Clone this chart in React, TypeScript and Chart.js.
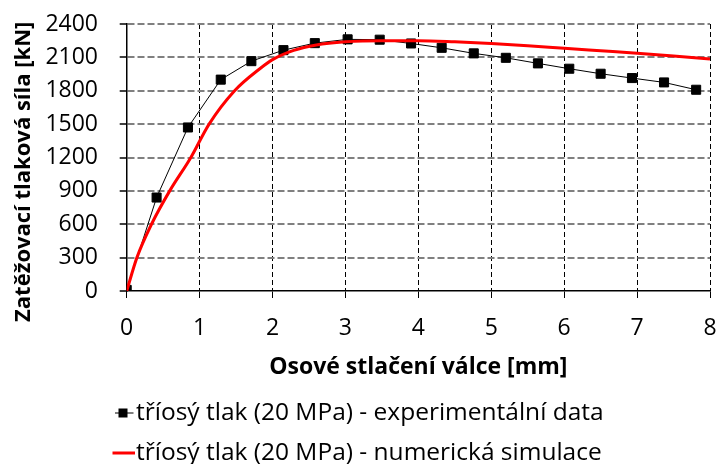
import React, { useEffect, useRef } from "react";
import { Chart, registerables } from "chart.js";

Chart.register(...registerables);

const expX = [0, 0.41, 0.84, 1.29, 1.71, 2.15, 2.58, 3.03, 3.47, 3.9, 4.32, 4.76, 5.2, 5.64, 6.07, 6.5, 6.93, 7.37, 7.81];
const expY = [10, 840, 1470, 1900, 2066, 2165, 2228, 2262, 2259, 2225, 2186, 2136, 2096, 2046, 1998, 1953, 1914, 1875, 1809];

const simX = [0, 0.14, 0.34, 0.59, 0.88, 1.13, 1.48, 1.83, 2.0, 2.29, 2.6, 3.0, 3.5, 4.0, 4.5, 5.0, 5.5, 6.0, 6.5, 7.0, 7.5, 8.0];
const simY = [0, 300, 600, 900, 1200, 1500, 1800, 2000, 2080, 2163, 2212, 2240, 2250, 2250, 2240, 2225, 2205, 2182, 2160, 2138, 2113, 2085];

const seriesLabels = [
  "tříosý tlak (20 MPa) - experimentální data",
  "tříosý tlak (20 MPa) - numerická simulace",
];
const xTitle = "Osové stlačení válce [mm]";
const yTitle = "Zatěžovací tlaková síla [kN]\u00A0\u00A0\u00A0\u00A0\u00A0";
const xMin = 0, xMax = 8, xStep = 1;
const yMin = 0, yMax = 2400, yStep = 300;

const FONT = '"Open Sans", sans-serif';

const legendPlugin = {
  id: "customLegend",
  afterDraw(chart: any) {
    const ctx = chart.ctx;
    const ds = chart.data.datasets;
    ctx.save();
    ctx.font = `24.5px ${FONT}`;
    ctx.textBaseline = "middle";
    ctx.textAlign = "left";
    const rows = [413, 453];
    ds.forEach((d: any, i: number) => {
      const y = rows[i];
      ctx.strokeStyle = d.borderColor;
      ctx.lineWidth = d.borderWidth;
      ctx.beginPath();
      ctx.moveTo(d.pointRadius > 0 ? 115 : 112.5, y);
      ctx.lineTo(d.pointRadius > 0 ? 133.5 : 135, y);
      ctx.stroke();
      if (d.pointRadius > 0) {
        ctx.fillStyle = d.pointBackgroundColor;
        ctx.fillRect(118.5, y - 4.5, 9, 9);
      }
      ctx.fillStyle = "#000";
      ctx.fillText(d.label, 136, y);
    });
    ctx.restore();
  },
};

export default function App() {
  const ref = useRef<HTMLCanvasElement | null>(null);
  useEffect(() => {
    if (!ref.current) return;
    const chart = new Chart(ref.current, {
      type: "line",
      data: {
        datasets: [
          {
            label: seriesLabels[0],
            data: expX.map((x, i) => ({ x, y: expY[i] })),
            borderColor: "#000000",
            backgroundColor: "#000000",
            borderWidth: 1,
            pointStyle: "rect",
            pointRadius: 6.4,
            pointBackgroundColor: "#000000",
            pointBorderColor: "#000000",
            pointBorderWidth: 1,
            tension: 0,
            order: 2,
          },
          {
            label: seriesLabels[1],
            data: simX.map((x, i) => ({ x, y: simY[i] })),
            borderColor: "#ff0000",
            backgroundColor: "#ff0000",
            borderWidth: 3,
            pointRadius: 0,
            pointBackgroundColor: "#ff0000",
            cubicInterpolationMode: "monotone",
            order: 1,
          },
        ],
      },
      options: {
        animation: false,
        responsive: false,
        maintainAspectRatio: false,
        devicePixelRatio: 1,
        layout: { padding: { top: 24, right: 8, left: 0, bottom: 0 } },
        plugins: {
          legend: { display: false },
          tooltip: { enabled: false },
        },
        scales: {
          x: {
            type: "linear",
            min: xMin,
            max: xMax,
            afterFit: (s: any) => {
              s.height = 173;
              s.paddingLeft = 0;
              s.paddingRight = 0;
            },
            ticks: {
              stepSize: xStep,
              color: "#000",
              padding: 16.5,
              font: { family: FONT, size: 23, lineHeight: 1.2 },
              callback: (v: any) => String(v),
            },
            grid: {
              color: (c: any) => (c.tick && c.tick.value === xMin ? "rgba(0,0,0,0)" : "#000000"),
              lineWidth: 1,
              tickColor: "#000",
              tickLength: 7,
              tickWidth: 1,
            },
            border: { display: true, color: "#000", width: 1.5, dash: [5, 3] },
            title: {
              display: true,
              text: xTitle,
              color: "#000",
              font: { family: FONT, size: 23, weight: "bold", lineHeight: 1.2 },
              padding: { top: 0, bottom: 82.9 },
            },
          },
          y: {
            type: "linear",
            min: yMin,
            max: yMax,
            afterFit: (s: any) => {
              s.width = 126.7;
              s.paddingTop = 0;
              s.paddingBottom = 0;
            },
            ticks: {
              stepSize: yStep,
              color: "#000",
              padding: 21.7,
              font: { family: FONT, size: 23, lineHeight: 1.2 },
              callback: (v: any) => String(v),
            },
            grid: {
              color: (c: any) => (c.tick && c.tick.value === yMin ? "rgba(0,0,0,0)" : "#808080"),
              lineWidth: 2,
              tickColor: "#000",
              tickLength: 7,
              tickWidth: 1.5,
            },
            border: { display: true, color: "#000", width: 1.5, dash: [7, 3] },
            title: {
              display: true,
              text: yTitle,
              color: "#000",
              font: { family: FONT, size: 22, weight: "bold", lineHeight: 1.2 },
              padding: { top: 10.8, bottom: 0 },
            },
          },
        },
      },
      plugins: [legendPlugin],
    } as any);
    return () => chart.destroy();
  }, []);
  return (
    <div style={{ position: "absolute", left: 0, top: 0, width: 718, height: 464, background: "#fff" }}>
      <canvas ref={ref} width={718} height={464} />
    </div>
  );
}
